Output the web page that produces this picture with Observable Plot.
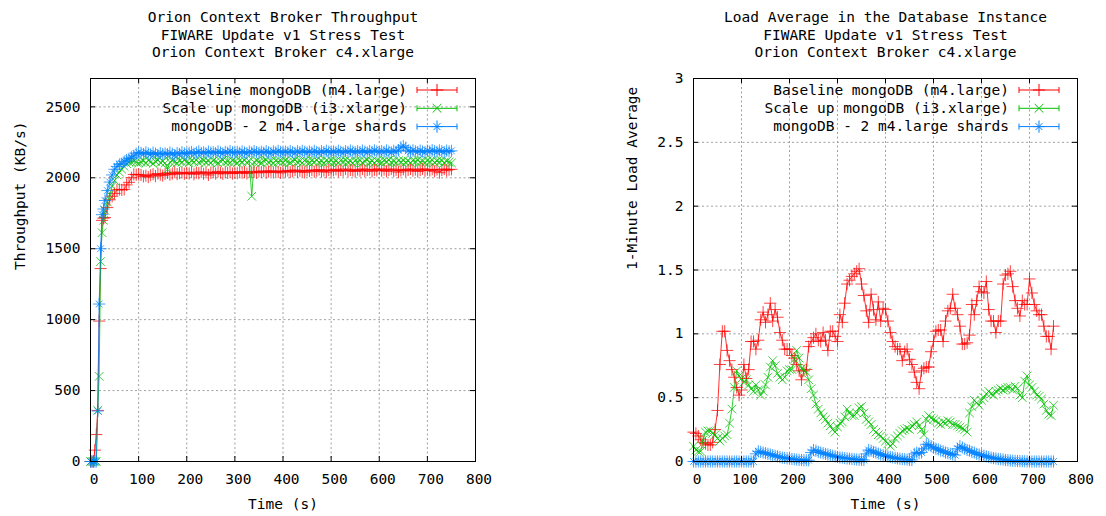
<!DOCTYPE html>
<html>
<head>
<meta charset="utf-8">
<script src="https://cdn.jsdelivr.net/npm/d3@7"></script>
<script src="https://cdn.jsdelivr.net/npm/@observablehq/plot@0.6"></script>
<style>
  html, body { margin: 0; padding: 0; background: #fff; }
  #wrap { position: relative; width: 1106px; height: 516px; overflow: hidden; background: #fff; }
  #wrap svg { position: absolute; top: 0; }
</style>
</head>
<body>
<div id="wrap"></div>
<script>
// ---------- shared labels ----------
const seriesLabels = [
  "Baseline mongoDB (m4.large)",
  "Scale up mongoDB (i3.xlarge)",
  "mongoDB - 2 m4.large shards"
];
const seriesColors = ["#ff0000", "#00c000", "#0080ff"];
const xTickValues = [0, 100, 200, 300, 400, 500, 600, 700, 800];
const xGridValues = [100, 200, 300, 400, 500, 600, 700];

// ---------- throughput panel ----------
const throughputTitle = "Orion Context Broker Throughput\nFIWARE Update v1 Stress Test\nOrion Context Broker c4.xlarge";
const throughputYLabel = "Throughput (KB/s)";
const throughputYTicks = [0, 500, 1000, 1500, 2000, 2500];

const throughputTime = [
  0, 3, 6, 9, 12, 15, 18, 21, 24, 27, 30, 35, 40, 45, 50, 55, 60, 65, 70, 75, 80, 85, 90, 95, 100,
  105, 110, 115, 120, 125, 130, 135, 140, 145, 150,
  155, 160, 165, 170, 175, 180, 185, 190, 195, 200,
  205, 210, 215, 220, 225, 230, 235, 240, 245, 250,
  255, 260, 265, 270, 275, 280, 285, 290, 295, 300,
  305, 310, 315, 320, 325, 330, 335, 340, 345, 350,
  355, 360, 365, 370, 375, 380, 385, 390, 395, 400,
  405, 410, 415, 420, 425, 430, 435, 440, 445, 450,
  455, 460, 465, 470, 475, 480, 485, 490, 495, 500,
  505, 510, 515, 520, 525, 530, 535, 540, 545, 550,
  555, 560, 565, 570, 575, 580, 585, 590, 595, 600,
  605, 610, 615, 620, 625, 630, 635, 640, 645, 650,
  655, 660, 665, 670, 675, 680, 685, 690, 695, 700,
  705, 710, 715, 720, 725, 730, 735, 740, 745, 750
];

const throughputBaseline = [
  0, 0, 0, 80, 190, 360, 990, 1360, 1700, 1715, 1720, 1790, 1845, 1870, 1890, 1915, 1918, 1915, 1918, 1950, 1968, 2000, 2024, 2022, 2024,
  2020, 2010, 2015, 2005, 2018, 2025, 2012, 2030, 2022, 2015,
  2028, 2035, 2022, 2030, 2040, 2026, 2033, 2038, 2028, 2035,
  2030, 2040, 2025, 2036, 2032, 2042, 2028, 2038, 2020, 2034,
  2040, 2030, 2045, 2036, 2028, 2040, 2034, 2043, 2030, 2038,
  2032, 2044, 2036, 2040, 2030, 2045, 2038, 2042, 2035, 2046,
  2040, 2048, 2036, 2044, 2050, 2038, 2046, 2042, 2035, 2048,
  2044, 2052, 2040, 2048, 2055, 2042, 2050, 2046, 2038, 2052,
  2048, 2055, 2043, 2050, 2058, 2045, 2052, 2040, 2055, 2048,
  2053, 2060, 2046, 2055, 2050, 2062, 2048, 2056, 2052, 2045,
  2058, 2050, 2062, 2048, 2055, 2060, 2046, 2057, 2052, 2063,
  2050, 2058, 2046, 2055, 2062, 2049, 2056, 2040, 2052, 2060,
  2048, 2056, 2062, 2050, 2058, 2045, 2055, 2063, 2050, 2057,
  2052, 2060, 2046, 2058, 2036, 2055, 2062, 2050, 2058, 2060
];

const throughputScaleUp = [
  0, 0, 0, 0, 0, 360, 600, 1410, 1613, 1700, 1770, 1830, 1880, 1940, 1980, 2020, 2040, 2060, 2080, 2100, 2110, 2110, 2115, 2110, 2105,
  2110, 2118, 2105, 2122, 2112, 2100, 2115, 2125, 2108, 2116,
  2104, 2060, 2110, 2120, 2112, 2105, 2118, 2110, 2124, 2113,
  2106, 2119, 2112, 2125, 2108, 2116, 2121, 2110, 2118, 2107,
  2120, 2113, 2105, 2118, 2124, 2110, 2116, 2108, 2121, 2114,
  2106, 2119, 2112, 2123, 2108, 2117, 1870, 2110, 2120, 2113,
  2107, 2119, 2124, 2111, 2116, 2105, 2120, 2113, 2118, 2109,
  2122, 2114, 2108, 2119, 2125, 2112, 2117, 2106, 2121, 2115,
  2109, 2120, 2113, 2124, 2110, 2117, 2106, 2119, 2114, 2122,
  2111, 2118, 2107, 2121, 2115, 2124, 2110, 2116, 2105, 2119,
  2113, 2122, 2108, 2117, 2125, 2111, 2118, 2106, 2120, 2114,
  2109, 2121, 2115, 2124, 2110, 2117, 2107, 2120, 2113, 2122,
  2110, 2118, 2106, 2121, 2115, 2124, 2111, 2117, 2108, 2120,
  2114, 2123, 2109, 2118, 2112, 2121, 2107, 2116, 2110, 2105
];

const throughputShards = [
  0, 0, 0, 0, 0, 356, 1110, 1500, 1740, 1780, 1840, 1910, 1970, 2020, 2060, 2080, 2095, 2100, 2115, 2125, 2135, 2145, 2155, 2170, 2178,
  2175, 2168, 2180, 2172, 2165, 2178, 2170, 2162, 2175, 2168,
  2172, 2166, 2178, 2170, 2160, 2175, 2168, 2180, 2172, 2170,
  2176, 2182, 2170, 2178, 2186, 2175, 2180, 2172, 2185, 2178,
  2180, 2174, 2186, 2179, 2172, 2183, 2177, 2188, 2180, 2175,
  2182, 2176, 2186, 2179, 2173, 2184, 2178, 2188, 2181, 2176,
  2183, 2177, 2188, 2180, 2174, 2186, 2179, 2190, 2182, 2177,
  2184, 2178, 2189, 2181, 2175, 2187, 2180, 2190, 2183, 2178,
  2185, 2179, 2190, 2182, 2176, 2187, 2181, 2191, 2184, 2179,
  2186, 2180, 2191, 2183, 2177, 2188, 2182, 2192, 2185, 2180,
  2187, 2181, 2192, 2184, 2178, 2189, 2183, 2193, 2186, 2181,
  2188, 2182, 2193, 2185, 2179, 2190, 2184, 2194, 2215, 2225,
  2212, 2190, 2184, 2194, 2187, 2182, 2192, 2186, 2180, 2191,
  2185, 2195, 2188, 2183, 2193, 2187, 2181, 2192, 2186, 2190
];

// ---------- load average panel ----------
const loadTitle = "Load Average in the Database Instance\nFIWARE Update v1 Stress Test\nOrion Context Broker c4.xlarge";
const loadYLabel = "1-Minute Load Average";
const loadYTicks = [0, 0.5, 1, 1.5, 2, 2.5, 3];

const loadTime = [
  0, 5, 10, 15, 20, 25, 30, 35, 40, 45,
  50, 55, 60, 65, 70, 75, 80, 85, 90, 95,
  100, 105, 110, 115, 120, 125, 130, 135, 140, 145,
  150, 155, 160, 165, 170, 175, 180, 185, 190, 195,
  200, 205, 210, 215, 220, 225, 230, 235, 240, 245,
  250, 255, 260, 265, 270, 275, 280, 285, 290, 295,
  300, 305, 310, 315, 320, 325, 330, 335, 340, 345,
  350, 355, 360, 365, 370, 375, 380, 385, 390, 395,
  400, 405, 410, 415, 420, 425, 430, 435, 440, 445,
  450, 455, 460, 465, 470, 475, 480, 485, 490, 495,
  500, 505, 510, 515, 520, 525, 530, 535, 540, 545,
  550, 555, 560, 565, 570, 575, 580, 585, 590, 595,
  600, 605, 610, 615, 620, 625, 630, 635, 640, 645,
  650, 655, 660, 665, 670, 675, 680, 685, 690, 695,
  700, 705, 710, 715, 720, 725, 730, 735, 740, 745,
  750
];

const loadBaseline = [
  0.23, 0.22, 0.20, 0.17, 0.15, 0.14, 0.13, 0.13, 0.15, 0.25,
  0.40, 0.76, 1.02, 1.02, 0.87, 0.79, 0.72, 0.66, 0.58, 0.52,
  0.56, 0.76, 0.65, 0.72, 0.94, 0.94, 0.88, 0.95, 1.11, 1.17,
  1.09, 1.15, 1.24, 1.10, 1.19, 1.13, 1.01, 0.95, 0.88, 0.88,
  0.88, 0.83, 0.81, 0.76, 0.71, 0.64, 0.71, 0.72, 0.90, 0.94,
  0.97, 1.00, 0.95, 0.94, 1.01, 0.95, 0.87, 1.02, 1.02, 0.98,
  0.94, 1.15, 1.09, 1.24, 1.39, 1.42, 1.45, 1.47, 1.49, 1.51,
  1.39, 1.30, 1.18, 1.09, 1.31, 1.19, 1.11, 1.25, 1.10, 1.20,
  1.19, 1.10, 1.01, 0.94, 0.90, 0.88, 0.88, 0.79, 0.86, 0.88,
  0.80, 0.76, 0.70, 0.62, 0.57, 0.71, 0.73, 0.74, 0.74, 0.86,
  0.94, 1.02, 1.03, 1.03, 0.94, 1.10, 1.18, 1.20, 1.31, 1.20,
  1.15, 1.06, 0.92, 0.92, 0.93, 0.99, 1.23, 1.15, 1.26, 1.37,
  1.33, 1.32, 1.41, 1.19, 1.10, 1.10, 1.01, 1.10, 1.10, 1.39,
  1.46, 1.47, 1.49, 1.37, 1.26, 1.20, 1.14, 1.26, 1.23, 1.23,
  1.43, 1.32, 1.23, 1.18, 1.15, 1.15, 1.06, 0.98, 0.98, 0.88,
  1.06
];

const loadScaleUp = [
  0.12, 0.09, 0.08, 0.08, 0.17, 0.23, 0.24, 0.24, 0.22, 0.21,
  0.18, 0.16, 0.18, 0.20, 0.21, 0.30, 0.41, 0.58, 0.71, 0.67,
  0.65, 0.62, 0.64, 0.60, 0.57, 0.55, 0.60, 0.56, 0.52, 0.55,
  0.60, 0.66, 0.74, 0.79, 0.75, 0.69, 0.66, 0.64, 0.66, 0.71,
  0.72, 0.72, 0.80, 0.87, 0.81, 0.73, 0.72, 0.70, 0.64, 0.57,
  0.52, 0.45, 0.41, 0.38, 0.35, 0.33, 0.30, 0.28, 0.25, 0.23,
  0.27, 0.30, 0.31, 0.35, 0.41, 0.38, 0.36, 0.36, 0.38, 0.42,
  0.43, 0.38, 0.33, 0.31, 0.29, 0.25, 0.23, 0.21, 0.20, 0.18,
  0.16, 0.14, 0.12, 0.14, 0.18, 0.20, 0.22, 0.24, 0.25, 0.26,
  0.25, 0.28, 0.29, 0.31, 0.28, 0.25, 0.21, 0.33, 0.36, 0.34,
  0.33, 0.32, 0.30, 0.29, 0.31, 0.30, 0.32, 0.31, 0.29, 0.29,
  0.28, 0.27, 0.26, 0.25, 0.23, 0.38, 0.43, 0.48, 0.46, 0.44,
  0.48, 0.50, 0.53, 0.55, 0.53, 0.52, 0.55, 0.56, 0.57, 0.56,
  0.57, 0.58, 0.58, 0.56, 0.59, 0.57, 0.52, 0.50, 0.63, 0.67,
  0.60, 0.58, 0.55, 0.52, 0.51, 0.49, 0.45, 0.40, 0.37, 0.36,
  0.44
];

const loadShards = [
  0, 0, 0, 0, 0, 0, 0, 0, 0, 0,
  0, 0, 0, 0, 0, 0, 0, 0, 0, 0,
  0, 0, 0, 0, 0, 0, 0.06, 0.08, 0.075, 0.07,
  0.065, 0.06, 0.055, 0.05, 0.045, 0.04, 0.035, 0.03, 0.028, 0.025,
  0.022, 0.02, 0.018, 0.015, 0.013, 0.012, 0.01, 0.01, 0.01, 0.07,
  0.09, 0.085, 0.075, 0.07, 0.065, 0.06, 0.055, 0.05, 0.045, 0.04,
  0.036, 0.032, 0.03, 0.027, 0.024, 0.022, 0.02, 0.018, 0.016, 0.014,
  0.013, 0.012, 0.06, 0.09, 0.085, 0.075, 0.07, 0.062, 0.055, 0.05,
  0.045, 0.04, 0.036, 0.032, 0.028, 0.025, 0.022, 0.02, 0.018, 0.015,
  0.013, 0.012, 0.06, 0.07, 0.065, 0.07, 0.10, 0.135, 0.13, 0.12,
  0.11, 0.10, 0.095, 0.085, 0.08, 0.07, 0.065, 0.06, 0.055, 0.05,
  0.10, 0.12, 0.11, 0.10, 0.09, 0.085, 0.075, 0.07, 0.06, 0.055,
  0.05, 0.045, 0.04, 0.035, 0.03, 0.027, 0.024, 0.02, 0.018, 0.015,
  0.012, 0.01, 0.008, 0.006, 0.005, 0.004, 0.003, 0.002, 0.002, 0.001,
  0, 0, 0, 0, 0, 0, 0, 0, 0, 0,
  0
];

// ---------- drawing ----------
const FONT = "'DejaVu Sans Mono', 'Liberation Mono', monospace";
const W = 553, H = 516, MT = 78, MB = 55;
const TICK = 5;
const markerR = 4;

// marker kinds per series: plus, times, star (plus + times)
const markerKinds = ["plus", "times", "star"];

function toRows(time, values) {
  return time.map((t, i) => ({t, v: values[i]}));
}

function seriesMarks(rows, i) {
  const color = seriesColors[i];
  const kind = markerKinds[i];
  const marks = [Plot.line(rows, {x: "t", y: "v", stroke: color, strokeWidth: 1, strokeOpacity: 0.8})];
  if (kind === "plus" || kind === "star")
    marks.push(Plot.dot(rows, {x: "t", y: "v", symbol: "plus", r: markerR, stroke: color, strokeWidth: 1, strokeOpacity: 0.75}));
  if (kind === "times" || kind === "star")
    marks.push(Plot.dot(rows, {x: "t", y: "v", symbol: "times", r: kind === "star" ? 3.2 : markerR, stroke: color, strokeWidth: 1, strokeOpacity: 0.75}));
  return marks;
}

// key in the upper right corner of the frame: label, line sample with end caps, marker
function keyMark() {
  return (index, scales, values, dims) => {
    const right = dims.width - dims.marginRight;
    const g = d3.create("svg:g");
    const size = Math.PI * markerR * markerR;
    seriesLabels.forEach((label, i) => {
      const y = dims.marginTop + 12 + i * 18.3;
      const x1 = right - 58, x2 = right - 18, xm = (x1 + x2) / 2;
      g.append("text")
        .attr("x", right - 68).attr("y", y).attr("dy", "0.32em")
        .attr("text-anchor", "end").attr("fill", "#000")
        .text(label);
      g.append("path")
        .attr("d", `M${x1},${y}H${x2}M${x1},${y - 3}V${y + 3}M${x2},${y - 3}V${y + 3}`)
        .attr("stroke", seriesColors[i]).attr("fill", "none");
      const kind = markerKinds[i];
      if (kind === "plus" || kind === "star")
        g.append("path").attr("transform", `translate(${xm},${y})`)
          .attr("d", d3.symbol(d3.symbolPlus, size)())
          .attr("stroke", seriesColors[i]).attr("fill", "none");
      if (kind === "times" || kind === "star")
        g.append("path").attr("transform", `translate(${xm},${y})`)
          .attr("d", d3.symbol(d3.symbolTimes, kind === "star" ? Math.PI * 3.2 * 3.2 : size)())
          .attr("stroke", seriesColors[i]).attr("fill", "none");
    });
    return g.node();
  };
}

function panel({left, marginLeft, marginRight, yDomain, yTicks, title, yLabel, yLabelDx, series, time}) {
  const frameW = W - marginLeft - marginRight;
  const frameH = H - MT - MB;
  const yGrid = yTicks.filter(v => v > yDomain[0] && v < yDomain[1]);
  const marks = [
    Plot.ruleX(xGridValues, {stroke: "#a0a0a0", strokeDasharray: "2,2.5"}),
    Plot.ruleY(yGrid, {stroke: "#a0a0a0", strokeDasharray: "2,2.5"}),
    ...series.flatMap((values, i) => seriesMarks(toRows(time, values), i)),
    // inward tick marks on all four sides
    Plot.ruleX(xTickValues, {insetTop: frameH - TICK, stroke: "#000"}),
    Plot.ruleX(xTickValues, {insetBottom: frameH - TICK, stroke: "#000"}),
    Plot.ruleY(yTicks, {insetRight: frameW - TICK, stroke: "#000"}),
    Plot.ruleY(yTicks, {insetLeft: frameW - TICK, stroke: "#000"}),
    Plot.frame({stroke: "#000"}),
    Plot.axisX({ticks: xTickValues, tickSize: 0, tickPadding: 12, tickFormat: d => String(d), label: null, dx: 3.5}),
    Plot.axisY({ticks: yTicks, tickSize: 0, tickPadding: 10, tickFormat: d => String(d), label: null}),
    Plot.text([yLabel], {frameAnchor: "left", dx: yLabelDx, rotate: -90, lineAnchor: "middle", text: d => d}),
    Plot.text(["Time (s)"], {frameAnchor: "bottom", dy: 43, lineAnchor: "middle", text: d => d}),
    Plot.text([title], {frameAnchor: "top", dy: -44.5, lineAnchor: "middle", lineHeight: 1.21, text: d => d}),
    keyMark()
  ];
  const svg = Plot.plot({
    width: W, height: H,
    marginLeft, marginRight, marginTop: MT, marginBottom: MB,
    style: {fontFamily: FONT, fontSize: "14.5px", color: "#000", background: "transparent", overflow: "visible"},
    x: {domain: [0, 800]},
    y: {domain: yDomain},
    marks
  });
  svg.style.left = left + "px";
  document.getElementById("wrap").appendChild(svg);
}

panel({
  left: 0, marginLeft: 90, marginRight: 78,
  yDomain: [0, 2700], yTicks: throughputYTicks,
  title: throughputTitle, yLabel: throughputYLabel, yLabelDx: -70,
  series: [throughputBaseline, throughputScaleUp, throughputShards],
  time: throughputTime
});

panel({
  left: 553, marginLeft: 140, marginRight: 29,
  yDomain: [0, 3], yTicks: loadYTicks,
  title: loadTitle, yLabel: loadYLabel, yLabelDx: -61,
  series: [loadBaseline, loadScaleUp, loadShards],
  time: loadTime
});
</script>
</body>
</html>
